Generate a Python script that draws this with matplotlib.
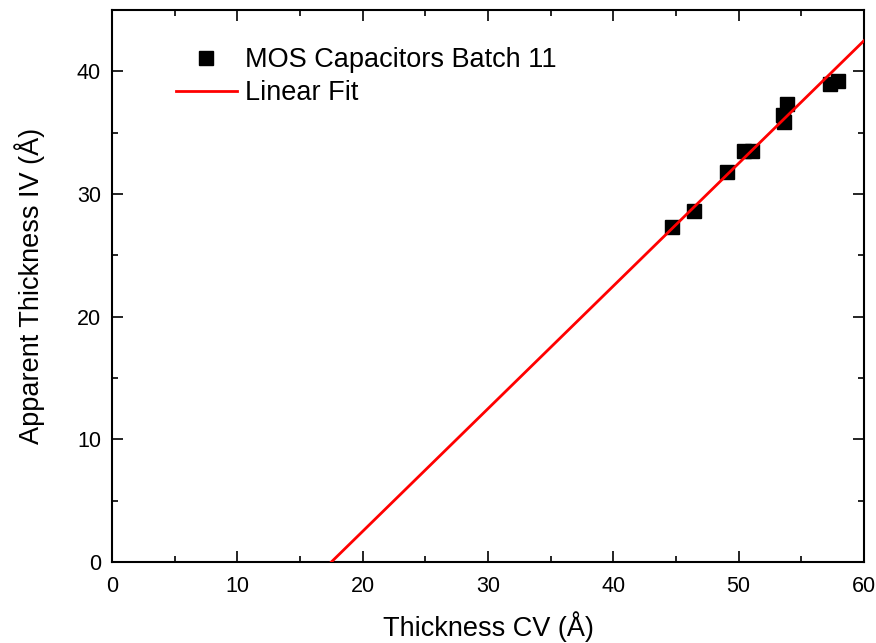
import matplotlib
matplotlib.use("Agg")
import matplotlib.pyplot as plt
from matplotlib.ticker import MultipleLocator

plt.rcParams['font.family'] = ['Liberation Sans', 'DejaVu Sans']

# Data
thickness_cv = [44.7, 46.45, 49.05, 50.4, 51.1, 53.5, 53.85, 53.6, 57.3, 57.95]
thickness_iv = [27.3, 28.6, 31.8, 33.5, 33.5, 36.4, 37.3, 35.9, 39.0, 39.2]

fit_x = [17.5, 60.0]
fit_y = [0.0, 42.5]

fig = plt.figure(figsize=(8.76, 6.43), dpi=100)
ax = fig.add_axes([112/876, 81/643, (864-112)/876, (562-10)/643])

ax.plot(fit_x, fit_y, color='#ff0000', lw=2, label='Linear Fit', zorder=3)
ax.plot(thickness_cv, thickness_iv, 's', color='black', ms=9.5, ls='none',
        label='MOS Capacitors Batch 11', zorder=2)

ax.set_xlim(0, 60)
ax.set_ylim(0, 45)
ax.xaxis.set_major_locator(MultipleLocator(10))
ax.xaxis.set_minor_locator(MultipleLocator(5))
ax.yaxis.set_major_locator(MultipleLocator(10))
ax.yaxis.set_minor_locator(MultipleLocator(5))
ax.tick_params(which='both', direction='in', top=True, right=True, width=1.2)
ax.tick_params(which='major', length=8, labelsize=15.5)
ax.tick_params(axis='x', which='major', pad=10)
ax.tick_params(axis='y', which='major', pad=8)
ax.tick_params(which='minor', length=4)
for s in ax.spines.values():
    s.set_linewidth(1.5)

ax.set_xlabel('Thickness CV (Å)', fontsize=19.5, labelpad=10)
ax.set_ylabel('Apparent Thickness IV (Å)', fontsize=19.5, labelpad=23)

handles, labels = ax.get_legend_handles_labels()
ax.legend(handles[::-1], labels[::-1], loc='upper left',
          bbox_to_anchor=((176-112)/752, (562-47)/552),
          borderaxespad=0, borderpad=0,
          frameon=False, fontsize=19.5, handlelength=2.25, handletextpad=0.3,
          labelspacing=0.26)

fig.savefig('out.png', dpi=100)
